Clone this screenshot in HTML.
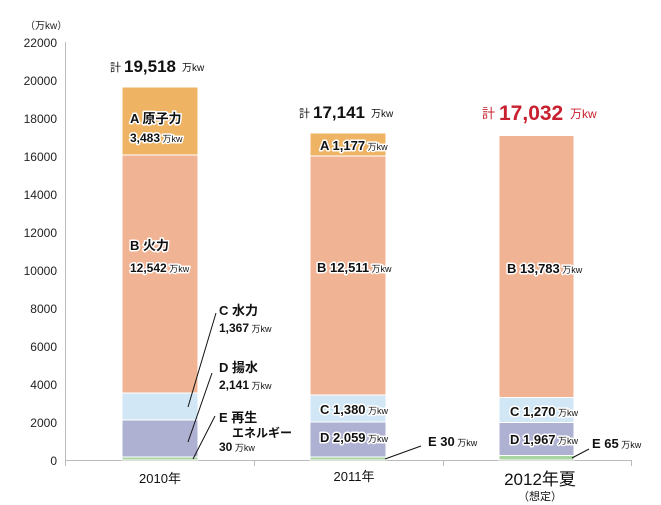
<!DOCTYPE html>
<html><head><meta charset="utf-8"><style>
html,body{margin:0;padding:0;background:#fff;}
svg{display:block;font-family:"Liberation Sans","Noto Sans CJK JP",sans-serif;}
.h{paint-order:stroke;stroke:#fff;stroke-width:3px;stroke-linejoin:round;font-weight:bold;fill:#111;}
.t{font-size:12px;fill:#222;}
</style></head><body>
<svg width="661" height="505" viewBox="0 0 661 505" xmlns="http://www.w3.org/2000/svg">
<text x="25" y="29" font-size="10" fill="#222">（万kw）</text>
<g class="t" text-anchor="end">
<text x="57" y="47">22000</text><text x="57" y="85">20000</text><text x="57" y="123">18000</text>
<text x="57" y="161">16000</text><text x="57" y="199">14000</text><text x="57" y="237">12000</text>
<text x="57" y="275">10000</text><text x="57" y="313">8000</text><text x="57" y="351">6000</text>
<text x="57" y="389">4000</text><text x="57" y="427">2000</text><text x="57" y="465">0</text>
</g>
<line x1="65.5" y1="42" x2="65.5" y2="466" stroke="#bbb"/>
<line x1="65" y1="460.5" x2="632" y2="460.5" stroke="#bbb"/>
<line x1="254.5" y1="460" x2="254.5" y2="466" stroke="#bbb"/>
<line x1="443.5" y1="460" x2="443.5" y2="466" stroke="#bbb"/>
<line x1="631.5" y1="460" x2="631.5" y2="466" stroke="#bbb"/>

<g stroke="#fff" stroke-width="1">
<rect x="122" y="87" width="76" height="68" fill="#EFB463"/>
<rect x="122" y="155" width="76" height="238" fill="#F0B494"/>
<rect x="122" y="393" width="76" height="27" fill="#D2E7F6"/>
<rect x="122" y="420" width="76" height="37" fill="#AFB1D3"/>
<rect x="122" y="457" width="76" height="3" fill="#A8D5A0"/>
<rect x="310" y="133" width="76" height="23" fill="#EFB463"/>
<rect x="310" y="156" width="76" height="239" fill="#F0B494"/>
<rect x="310" y="395" width="76" height="27" fill="#D2E7F6"/>
<rect x="310" y="422" width="76" height="35" fill="#AFB1D3"/>
<rect x="310" y="457" width="76" height="3" fill="#A8D5A0"/>
<rect x="499" y="135.5" width="75" height="262" fill="#F0B494"/>
<rect x="499" y="397.5" width="75" height="25" fill="#D2E7F6"/>
<rect x="499" y="422.5" width="75" height="33" fill="#AFB1D3"/>
<rect x="499" y="455.5" width="75" height="4.5" fill="#A8D5A0"/>
</g>

<text x="110" y="71" font-size="11" fill="#111">計</text>
<text x="124" y="72" font-size="17" font-weight="bold" fill="#111">19,518</text>
<text x="182" y="71" font-size="10" fill="#111">万kw</text>
<text x="299" y="117" font-size="11" fill="#111">計</text>
<text x="313" y="118" font-size="17" font-weight="bold" fill="#111">17,141</text>
<text x="371" y="117" font-size="10" fill="#111">万kw</text>
<text x="482" y="118" font-size="13" fill="#c8202e">計</text>
<text x="499" y="120" font-size="21" font-weight="bold" fill="#c8202e">17,032</text>
<text x="570" y="118" font-size="12" fill="#c8202e">万kw</text>

<text class="h" x="130" y="123" font-size="13">A 原子力</text>
<text class="h" x="130" y="142" font-size="12">3,483<tspan font-size="9" font-weight="normal"> 万kw</tspan></text>
<text class="h" x="130" y="250" font-size="13">B 火力</text>
<text class="h" x="130" y="272" font-size="12">12,542<tspan font-size="9" font-weight="normal"> 万kw</tspan></text>
<line x1="216" y1="313" x2="188" y2="407" stroke="#111"/>
<line x1="212" y1="373" x2="188" y2="442" stroke="#111"/>
<line x1="215" y1="416" x2="193" y2="459" stroke="#111"/>
<text class="h" x="219" y="315" font-size="13">C 水力</text>
<text class="h" x="219" y="332" font-size="12">1,367<tspan font-size="9" font-weight="normal"> 万kw</tspan></text>
<text class="h" x="219" y="372" font-size="13">D 揚水</text>
<text class="h" x="219" y="389" font-size="12">2,141<tspan font-size="9" font-weight="normal"> 万kw</tspan></text>
<text class="h" x="219" y="422" font-size="13" font-weight="normal">E 再生</text>
<text class="h" x="232" y="437" font-size="12" font-weight="normal">エネルギー</text>
<text class="h" x="219" y="451" font-size="12">30<tspan font-size="9" font-weight="normal"> 万kw</tspan></text>

<text class="h" x="320" y="150" font-size="13">A 1,177<tspan font-size="9" font-weight="normal"> 万kw</tspan></text>
<text class="h" x="317" y="272" font-size="13">B 12,511<tspan font-size="9" font-weight="normal"> 万kw</tspan></text>
<text class="h" x="320" y="414" font-size="13">C 1,380<tspan font-size="9" font-weight="normal"> 万kw</tspan></text>
<text class="h" x="320" y="442" font-size="13">D 2,059<tspan font-size="9" font-weight="normal"> 万kw</tspan></text>
<line x1="421" y1="446" x2="385" y2="459" stroke="#111"/>
<text class="h" x="428" y="446" font-size="13">E 30<tspan font-size="9" font-weight="normal"> 万kw</tspan></text>

<text class="h" x="507" y="273" font-size="13">B 13,783<tspan font-size="9" font-weight="normal"> 万kw</tspan></text>
<text class="h" x="510" y="416" font-size="13">C 1,270<tspan font-size="9" font-weight="normal"> 万kw</tspan></text>
<text class="h" x="510" y="444" font-size="13">D 1,967<tspan font-size="9" font-weight="normal"> 万kw</tspan></text>
<line x1="589" y1="449" x2="572" y2="458" stroke="#111"/>
<text class="h" x="592" y="448" font-size="13">E 65<tspan font-size="9" font-weight="normal"> 万kw</tspan></text>

<text x="160" y="483" font-size="13" fill="#111" text-anchor="middle">2010年</text>
<text x="354" y="481" font-size="13" fill="#111" text-anchor="middle">2011年</text>
<text x="540" y="485" font-size="17" fill="#111" text-anchor="middle">2012年夏</text>
<text x="540" y="500" font-size="11" fill="#111" text-anchor="middle">（想定）</text>
</svg>
</body></html>
